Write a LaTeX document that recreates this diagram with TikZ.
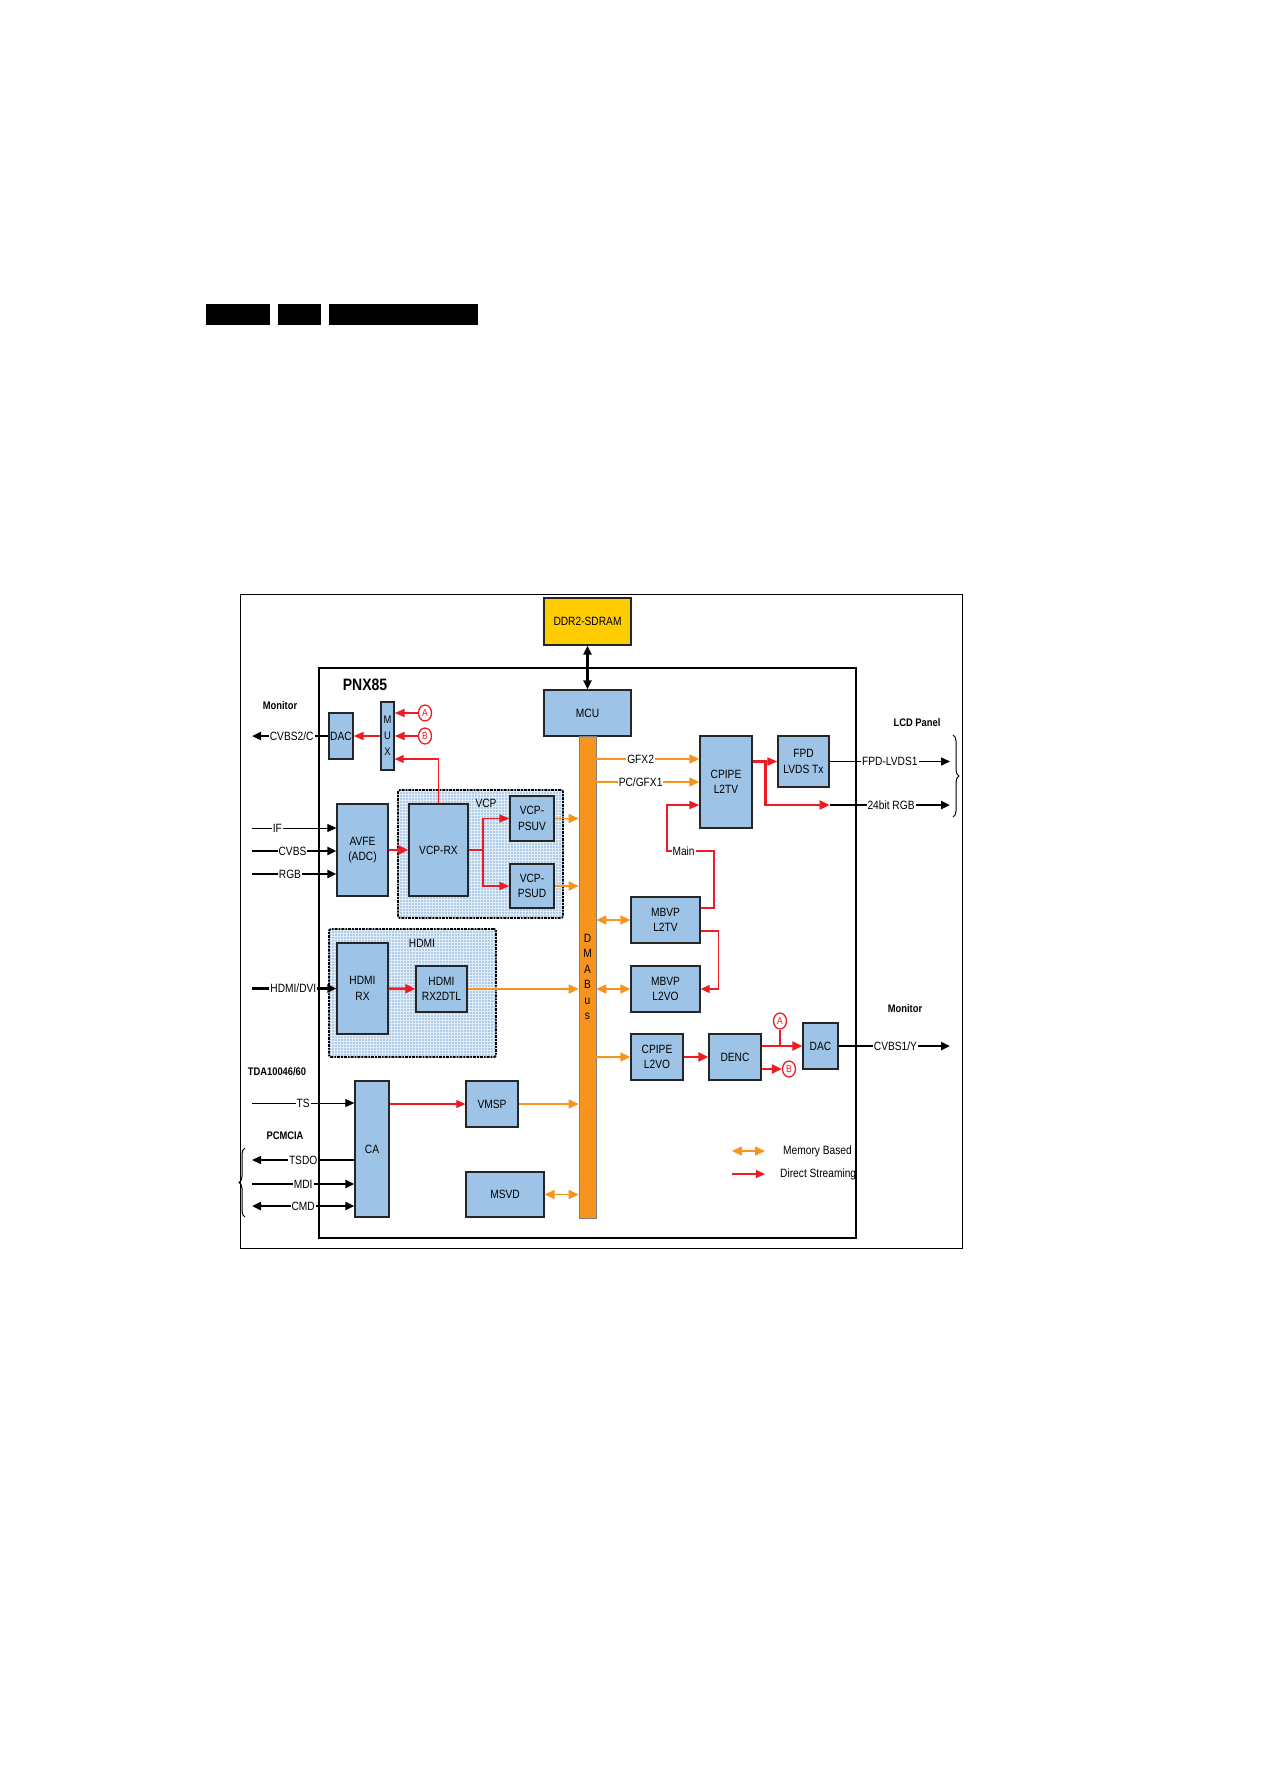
\documentclass[tikz,border=0pt]{standalone}
\usepackage{fontspec}
\setmainfont{Liberation Sans}[FakeStretch=0.85]
\usepackage{xcolor}
\usetikzlibrary{arrows.meta,shapes.geometric,decorations.pathreplacing}
\definecolor{blkblue}{RGB}{157,195,230}
\definecolor{busorange}{RGB}{247,148,30}
\definecolor{sigred}{RGB}{237,28,36}
\definecolor{ddryellow}{RGB}{255,204,0}

\begin{document}
\begin{tikzpicture}[x=1pt, y=-1pt,
    font=\fontsize{12}{15.5}\selectfont,
    wh/.style 2 args={minimum width=#1pt, minimum height=#2pt},
    blk/.style={rectangle, draw=black!85, fill=blkblue, line width=1.3pt, inner sep=1pt, align=center},
    grp/.style={rectangle, draw=black, fill=blkblue!85!white, line width=1.8pt, densely dashdotted, rounded corners=2pt,
        path picture={\draw[solid, white!70!blkblue, line width=0.4pt] (path picture bounding box.south west) grid[step=3pt] (path picture bounding box.north east);}},
    circ/.style={ellipse, draw=sigred, text=sigred, line width=1.3pt, inner sep=0pt, minimum width=13pt, minimum height=16pt, font=\fontsize{10}{12}\selectfont},
    hdr/.style={font=\fontsize{11}{13}\selectfont\bfseries},
    lbl/.style={fill=white, inner sep=1pt},
    redthick/.style={draw=sigred, line width=2.8pt, -{Triangle[length=10pt,width=9pt]}},
    redmed/.style={draw=sigred, line width=1.8pt, -{Triangle[length=10pt,width=8pt]}},
    redthin/.style={draw=sigred, line width=1.1pt, -{Triangle[length=9pt,width=8pt]}},
    orarr/.style={draw=busorange, line width=1.6pt, -{Triangle[length=10pt,width=9pt]}},
    ordbl/.style={orarr, {Triangle[length=10pt,width=9pt]}-{Triangle[length=10pt,width=9pt]}},
    blkthick/.style={draw=black, line width=2.6pt, -{Triangle[length=9pt,width=8pt]}},
    blkmed/.style={draw=black, line width=1.5pt, -{Triangle[length=9pt,width=8pt]}},
    blkthin/.style={draw=black, line width=1pt, -{Triangle[length=9pt,width=8pt]}},
]
\path[use as bounding box, fill=white] (0,0) rectangle (1263,1787);

% Header bars
\fill (206,304) rectangle (270,325);
\fill (278,304) rectangle (321,325);
\fill (329,304) rectangle (478,325);

% Frames
\draw[line width=1pt] (240,594) rectangle (962,1248);
\draw[line width=2.4pt] (319,668) rectangle (856,1238);
\node[hdr, font=\fontsize{16.5}{18}\selectfont\bfseries] (pnx) at (365,685) {PNX85};

% Groups
\node[grp, wh={165}{128}] (vcpgrp) at (480.5,854) {};
\node (vcplbl) at (486,803) {VCP};
\node[grp, wh={167}{128}] (hdmigrp) at (412.5,993) {};
\node (hdmilbl) at (422,943) {HDMI};

% Memory and bus
\node[blk, fill=ddryellow, wh={87}{47}] (ddr) at (587.5,621.5) {DDR2-SDRAM};
\node[blk, wh={87}{46}] (mcu) at (587.5,713) {MCU};
\node[rectangle, fill=busorange, draw=black!50, line width=0.6pt, wh={17}{482}, inner sep=0pt, align=center] (bus) at (587.5,977) {D\\M\\A\\B\\u\\s};

% Left blocks
\node[blk, wh={24}{46}, inner sep=0pt] (dacl) at (341,736) {DAC};
\node[blk, wh={13}{68}, inner sep=0pt, font=\fontsize{11}{16}\selectfont] (mux) at (387.5,736) {M\\U\\X};
\node[circ] (ca1) at (425,713) {A};
\node[circ] (cb1) at (425,736) {B};
\node[blk, wh={51}{92}] (avfe) at (362.5,850) {AVFE\\(ADC)};
\node[blk, wh={59}{92}] (vcprx) at (438.5,850) {VCP-RX};
\node[blk, wh={44}{45}] (psuv) at (532,818.5) {VCP-\\PSUV};
\node[blk, wh={44}{44}] (psud) at (532,886) {VCP-\\PSUD};
\node[blk, wh={51}{91}] (hdmirx) at (362.5,988.5) {HDMI\\RX};
\node[blk, wh={51}{46}] (rx2dtl) at (441.5,989) {HDMI\\RX2DTL};
\node[blk, wh={34}{136}] (ca) at (372,1149) {CA};
\node[blk, wh={52}{46}] (vmsp) at (492,1104) {VMSP};
\node[blk, wh={78}{45}] (msvd) at (505,1194.5) {MSVD};

% Right blocks
\node[blk, wh={52}{92}] (cpipe2tv) at (726,782) {CPIPE\\L2TV};
\node[blk, wh={51}{51}] (fpd) at (803.5,761.5) {FPD\\LVDS Tx};
\node[blk, wh={69}{46}] (mbvptv) at (665.5,920) {MBVP\\L2TV};
\node[blk, wh={69}{46}] (mbvpvo) at (665.5,989) {MBVP\\L2VO};
\node[blk, wh={52}{46}] (cpipevo) at (657,1057) {CPIPE\\L2VO};
\node[blk, wh={52}{46}] (denc) at (735,1057) {DENC};
\node[blk, wh={35}{46}] (dacr) at (820.5,1046) {DAC};
\node[circ] (ca2) at (780,1021) {A};
\node[circ] (cb2) at (789,1069) {B};

% Outside labels
\node[hdr] (monl) at (280,706) {Monitor};
\node[hdr] (monr) at (905,1009) {Monitor};
\node[hdr] (lcd) at (917,723) {LCD Panel};
\node[hdr] (tda) at (277,1072) {TDA10046/60};
\node[hdr] (pcmcia) at (285,1136) {PCMCIA};

% Free ends
\coordinate (mon2) at (252,736);
\coordinate (in-if) at (252,828);
\coordinate (in-cvbs) at (252,851);
\coordinate (in-rgb) at (252,874);
\coordinate (in-hdmi) at (252,988.5);
\coordinate (in-ts) at (252,1103);
\coordinate (in-tsdo) at (252,1160);
\coordinate (in-mdi) at (252,1184);
\coordinate (in-cmd) at (252,1206);
\coordinate (lcd-lvds) at (950,761.5);
\coordinate (lcd-rgb) at (950,805);
\coordinate (mon1) at (950,1046);
\coordinate (gfx2) at ([yshift=23pt]cpipe2tv.west);

% Memory
\draw[{Triangle[length=9pt,width=8pt]}-{Triangle[length=9pt,width=8pt]}, line width=2.2pt] (ddr) -- (mcu);

% Monitor out (left)
\draw[blkthick] (dacl) -- node[lbl, pos=0.48] {CVBS2/C} (mon2);
\draw[redmed] (mux) -- (dacl);
\draw[redmed] (ca1) -- (ca1 -| mux.east);
\draw[redmed] (cb1) -- (cb1 -| mux.east);
\draw[redthin] (vcprx.north) |- ([yshift=-23pt]mux.east);

% Analog inputs
\draw[blkthin] (in-if) -- node[lbl, pos=0.3] {IF} (in-if -| avfe.west);
\draw[blkthick] (in-cvbs) -- node[lbl, pos=0.48] {CVBS} (in-cvbs -| avfe.west);
\draw[blkthick] (in-rgb) -- node[lbl, pos=0.45] {RGB} (in-rgb -| avfe.west);
\draw[redthick] (avfe) -- (vcprx);
\draw[redmed] (vcprx.east) -- ++(14,0) |- (psuv.west);
\draw[redmed] (vcprx.east) -- ++(14,0) |- (psud.west);
\draw[orarr] (psuv.east) -- (psuv.east -| bus.west);
\draw[orarr] (psud.east) -- (psud.east -| bus.west);

% HDMI
\draw[blkthick] (in-hdmi) -- node[lbl, pos=0.49] {HDMI/DVI} (in-hdmi -| hdmirx.west);
\draw[redthick] (hdmirx) -- (rx2dtl);
\draw[orarr] (rx2dtl.east) -- (rx2dtl.east -| bus.west);

% Transport stream and PCMCIA
\draw[blkthin] (in-ts) -- node[lbl, pos=0.5] {TS} (in-ts -| ca.west);
\draw[redthin] (vmsp.west -| ca.east) -- (vmsp.west);
\draw[orarr] (vmsp.east) -- (vmsp.east -| bus.west);
\draw[ordbl] (msvd.east) -- (msvd.east -| bus.west);
\draw[blkmed] (in-tsdo -| ca.west) -- node[lbl, pos=0.5] {TSDO} (in-tsdo);
\draw[blkthick] (in-mdi) -- node[lbl, pos=0.5] {MDI} (in-mdi -| ca.west);
\draw[blkthick, {Triangle[length=9pt,width=8pt]}-{Triangle[length=9pt,width=8pt]}] (in-cmd) -- node[lbl, pos=0.5] {CMD} (in-cmd -| ca.west);
\draw[decorate, decoration={brace, amplitude=6pt}, line width=1pt] (245,1217) -- (245,1148);

% Display path
\draw[orarr] (gfx2 -| bus.east) -- node[lbl, pos=0.43] {GFX2} (gfx2);
\draw[orarr] (cpipe2tv.west -| bus.east) -- node[lbl, pos=0.43] {PC/GFX1} (cpipe2tv.west);
\draw[redmed] (fpd.west -| cpipe2tv.east) -- (fpd.west);
\draw[redthick] (fpd.west -| cpipe2tv.east) -- ++(13,0) |- (fpd.east |- lcd-rgb);
\draw[blkthick] (fpd.east |- lcd-rgb) -- node[lbl, pos=0.51] {24bit RGB} (lcd-rgb);
\draw[blkmed] (fpd.east) -- node[lbl, pos=0.5] {FPD-LVDS1} (lcd-lvds);
\draw[decorate, decoration={brace, amplitude=6pt}, line width=1pt] (953,735) -- (953,817);
\draw[redmed] ([yshift=12pt]mbvptv.east) -- ++(13,0) |- node[lbl, pos=0.82] {Main} ++(-47,-57) |- ([yshift=-23pt]cpipe2tv.west);
\draw[redthin] ([yshift=-11pt]mbvptv.east) -- ++(18,0) |- (mbvpvo.east);
\draw[ordbl] (mbvptv.west -| bus.east) -- (mbvptv.west);
\draw[ordbl] (mbvpvo.west -| bus.east) -- (mbvpvo.west);

% Monitor out (right)
\draw[orarr] (cpipevo.west -| bus.east) -- (cpipevo.west);
\draw[redthick] (cpipevo) -- (denc);
\draw[redthick] (dacr.west -| denc.east) -- (dacr.west);
\draw[draw=sigred, line width=2.2pt] (ca2) -- (ca2 |- dacr.west);
\draw[redthick] (cb2 -| denc.east) -- (cb2);
\draw[blkthick] (dacr) -- node[lbl, pos=0.51] {CVBS1/Y} (mon1);

% Legend
\coordinate (leg-mem-a) at (732,1151);
\coordinate (leg-mem-b) at (765,1151);
\coordinate (leg-dir-a) at (732,1174);
\coordinate (leg-dir-b) at (765,1174);
\draw[ordbl] (leg-mem-a) -- (leg-mem-b);
\draw[redthin] (leg-dir-a) -- (leg-dir-b);
\node[anchor=west, inner sep=0pt] (leg-mem) at (783,1151) {Memory Based};
\node[anchor=west, inner sep=0pt] (leg-dir) at (780,1174) {Direct Streaming};

\end{tikzpicture}
\end{document}
